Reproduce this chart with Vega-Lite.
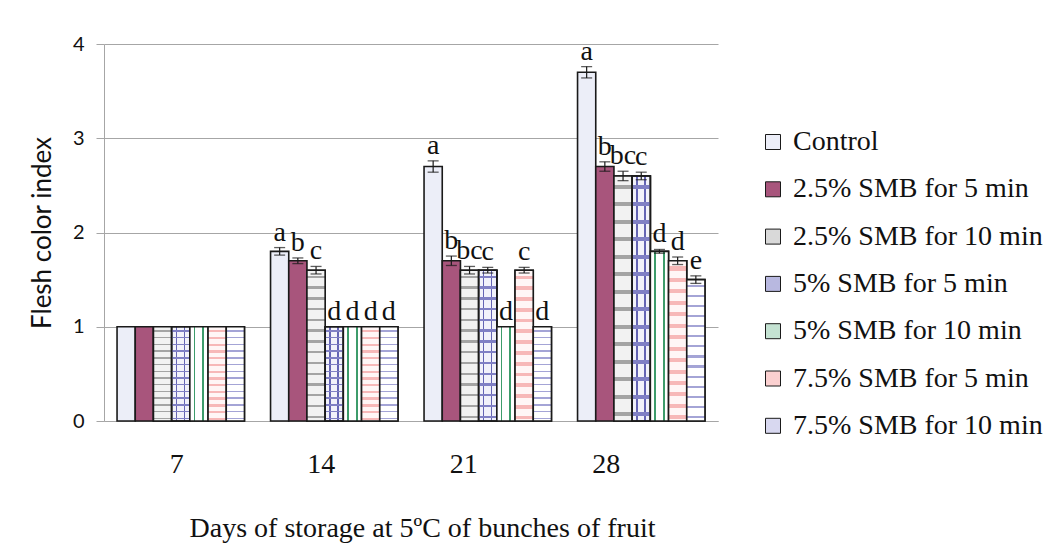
{
  "$schema": "https://vega.github.io/schema/vega-lite/v6.json",
  "width": 614,
  "height": 377,
  "autosize": {"type": "none"},
  "padding": {"left": 104, "top": 44, "right": 334, "bottom": 133},
  "background": "white",
  "config": {
    "view": {"stroke": null},
    "legend": {"labelFont": "Liberation Serif", "labelFontSize": 28, "labelColor": "#111111"}
  },
  "data": {"values": [
    {"day": 7, "trt": "Control", "value": 1.0, "lo": 1.0, "hi": 1.0, "letter": ""},
    {"day": 7, "trt": "2.5% SMB for 5 min", "value": 1.0, "lo": 1.0, "hi": 1.0, "letter": ""},
    {"day": 7, "trt": "2.5% SMB for 10 min", "value": 1.0, "lo": 1.0, "hi": 1.0, "letter": ""},
    {"day": 7, "trt": "5% SMB for 5 min", "value": 1.0, "lo": 1.0, "hi": 1.0, "letter": ""},
    {"day": 7, "trt": "5% SMB for 10 min", "value": 1.0, "lo": 1.0, "hi": 1.0, "letter": ""},
    {"day": 7, "trt": "7.5% SMB for 5 min", "value": 1.0, "lo": 1.0, "hi": 1.0, "letter": ""},
    {"day": 7, "trt": "7.5% SMB for 10 min", "value": 1.0, "lo": 1.0, "hi": 1.0, "letter": ""},
    {"day": 14, "trt": "Control", "value": 1.8, "lo": 1.76, "hi": 1.84, "letter": "a"},
    {"day": 14, "trt": "2.5% SMB for 5 min", "value": 1.7, "lo": 1.67, "hi": 1.73, "letter": "b"},
    {"day": 14, "trt": "2.5% SMB for 10 min", "value": 1.6, "lo": 1.56, "hi": 1.64, "letter": "c"},
    {"day": 14, "trt": "5% SMB for 5 min", "value": 1.0, "lo": 1.0, "hi": 1.0, "letter": "d"},
    {"day": 14, "trt": "5% SMB for 10 min", "value": 1.0, "lo": 1.0, "hi": 1.0, "letter": "d"},
    {"day": 14, "trt": "7.5% SMB for 5 min", "value": 1.0, "lo": 1.0, "hi": 1.0, "letter": "d"},
    {"day": 14, "trt": "7.5% SMB for 10 min", "value": 1.0, "lo": 1.0, "hi": 1.0, "letter": "d"},
    {"day": 21, "trt": "Control", "value": 2.7, "lo": 2.64, "hi": 2.76, "letter": "a"},
    {"day": 21, "trt": "2.5% SMB for 5 min", "value": 1.7, "lo": 1.65, "hi": 1.75, "letter": "b"},
    {"day": 21, "trt": "2.5% SMB for 10 min", "value": 1.6, "lo": 1.56, "hi": 1.64, "letter": "bc"},
    {"day": 21, "trt": "5% SMB for 5 min", "value": 1.6, "lo": 1.57, "hi": 1.63, "letter": "c"},
    {"day": 21, "trt": "5% SMB for 10 min", "value": 1.0, "lo": 1.0, "hi": 1.0, "letter": "d"},
    {"day": 21, "trt": "7.5% SMB for 5 min", "value": 1.6, "lo": 1.57, "hi": 1.63, "letter": "c"},
    {"day": 21, "trt": "7.5% SMB for 10 min", "value": 1.0, "lo": 1.0, "hi": 1.0, "letter": "d"},
    {"day": 28, "trt": "Control", "value": 3.7, "lo": 3.64, "hi": 3.76, "letter": "a"},
    {"day": 28, "trt": "2.5% SMB for 5 min", "value": 2.7, "lo": 2.65, "hi": 2.75, "letter": "b"},
    {"day": 28, "trt": "2.5% SMB for 10 min", "value": 2.6, "lo": 2.55, "hi": 2.65, "letter": "bc"},
    {"day": 28, "trt": "5% SMB for 5 min", "value": 2.6, "lo": 2.56, "hi": 2.64, "letter": "c"},
    {"day": 28, "trt": "5% SMB for 10 min", "value": 1.8, "lo": 1.78, "hi": 1.82, "letter": "d"},
    {"day": 28, "trt": "7.5% SMB for 5 min", "value": 1.7, "lo": 1.66, "hi": 1.74, "letter": "d"},
    {"day": 28, "trt": "7.5% SMB for 10 min", "value": 1.5, "lo": 1.46, "hi": 1.54, "letter": "e"}
  ]},
  "encoding": {
    "x": {
      "field": "day", "type": "ordinal", "sort": [7, 14, 21, 28],
      "scale": {"paddingInner": 0.17, "paddingOuter": 0.085},
      "axis": {
        "title": "Days of storage at 5ºC of bunches of fruit",
        "titleFont": "Liberation Serif", "titleFontSize": 28, "titleFontWeight": "normal", "titleColor": "#111111",
        "titlePadding": 36, "titleX": 318,
        "labelFont": "Liberation Serif", "labelFontSize": 28, "labelColor": "#111111", "labelAngle": 0,
        "labelPadding": 29, "ticks": false, "domainColor": "#a6a6a6", "domainWidth": 1,
        "labelOffset": {"condition": [
          {"test": "datum.value == 7", "value": -4},
          {"test": "datum.value == 14", "value": -13},
          {"test": "datum.value == 21", "value": -24}
        ], "value": -35}
      }
    },
    "xOffset": {
      "field": "trt", "type": "nominal",
      "sort": ["Control", "2.5% SMB for 5 min", "2.5% SMB for 10 min", "5% SMB for 5 min", "5% SMB for 10 min", "7.5% SMB for 5 min", "7.5% SMB for 10 min"],
      "scale": {"paddingInner": 0, "paddingOuter": 0}
    }
  },
  "layer": [
    {
      "mark": {"type": "bar", "stroke": "#1a1a1a", "strokeWidth": 1.6},
      "encoding": {
        "y": {
          "field": "value", "type": "quantitative",
          "scale": {"domain": [0, 4], "nice": false, "zero": true},
          "axis": {
            "values": [0, 1, 2, 3, 4], "format": "d", "title": "Flesh color index",
            "titleFont": "Lato", "titleFontSize": 26, "titleFontWeight": "normal", "titleColor": "#111111", "titlePadding": 17,
            "labelFont": "Lato", "labelFontSize": 20, "labelColor": "#111111", "labelPadding": 12,
            "tickSize": 8, "tickColor": "#a6a6a6", "domainColor": "#a6a6a6",
            "grid": true, "gridColor": "#a6a6a6", "gridWidth": 1
          }
        },
        "color": {
          "field": "trt", "type": "nominal",
          "sort": ["Control", "2.5% SMB for 5 min", "2.5% SMB for 10 min", "5% SMB for 5 min", "5% SMB for 10 min", "7.5% SMB for 5 min", "7.5% SMB for 10 min"],
          "scale": {
            "domain": ["Control", "2.5% SMB for 5 min", "2.5% SMB for 10 min", "5% SMB for 5 min", "5% SMB for 10 min", "7.5% SMB for 5 min", "7.5% SMB for 10 min"],
            "range": ["#eceef8", "#a8557c", "#d9d9d9", "#b8b8e0", "#c4e2d2", "#fbd0d0", "#d8d8f0"]
          },
          "legend": {
            "orient": "none", "legendX": 655, "legendY": 84, "title": null,
            "labelFont": "Liberation Serif", "labelFontSize": 28, "labelColor": "#111111", "labelLimit": 400,
            "symbolType": "square", "symbolSize": 225, "symbolStrokeColor": "#1a1a1a", "symbolStrokeWidth": 1,
            "symbolOpacity": 1, "rowPadding": 19.3, "labelOffset": 6
          }
        }
      }
    },
    {
      "transform": [{"filter": "datum.trt === '2.5% SMB for 10 min'"}],
      "mark": {"type": "bar", "stroke": "#1a1a1a", "strokeWidth": 1.6,
        "fill": {"gradient": "linear", "x1": 0, "y1": 0, "x2": 0, "y2": 1, "stops": [
          {"offset": 0, "color": "#f2f2f2"},
          {"offset": 0.0357, "color": "#f2f2f2"}, {"offset": 0.0357, "color": "#a4a4a4"}, {"offset": 0.0514, "color": "#a4a4a4"}, {"offset": 0.0514, "color": "#f2f2f2"},
          {"offset": 0.1071, "color": "#f2f2f2"}, {"offset": 0.1071, "color": "#a4a4a4"}, {"offset": 0.1228, "color": "#a4a4a4"}, {"offset": 0.1228, "color": "#f2f2f2"},
          {"offset": 0.1786, "color": "#f2f2f2"}, {"offset": 0.1786, "color": "#a4a4a4"}, {"offset": 0.1943, "color": "#a4a4a4"}, {"offset": 0.1943, "color": "#f2f2f2"},
          {"offset": 0.25, "color": "#f2f2f2"}, {"offset": 0.25, "color": "#a4a4a4"}, {"offset": 0.2657, "color": "#a4a4a4"}, {"offset": 0.2657, "color": "#f2f2f2"},
          {"offset": 0.3214, "color": "#f2f2f2"}, {"offset": 0.3214, "color": "#a4a4a4"}, {"offset": 0.3371, "color": "#a4a4a4"}, {"offset": 0.3371, "color": "#f2f2f2"},
          {"offset": 0.3929, "color": "#f2f2f2"}, {"offset": 0.3929, "color": "#a4a4a4"}, {"offset": 0.4086, "color": "#a4a4a4"}, {"offset": 0.4086, "color": "#f2f2f2"},
          {"offset": 0.4643, "color": "#f2f2f2"}, {"offset": 0.4643, "color": "#a4a4a4"}, {"offset": 0.48, "color": "#a4a4a4"}, {"offset": 0.48, "color": "#f2f2f2"},
          {"offset": 0.5357, "color": "#f2f2f2"}, {"offset": 0.5357, "color": "#a4a4a4"}, {"offset": 0.5514, "color": "#a4a4a4"}, {"offset": 0.5514, "color": "#f2f2f2"},
          {"offset": 0.6071, "color": "#f2f2f2"}, {"offset": 0.6071, "color": "#a4a4a4"}, {"offset": 0.6228, "color": "#a4a4a4"}, {"offset": 0.6228, "color": "#f2f2f2"},
          {"offset": 0.6786, "color": "#f2f2f2"}, {"offset": 0.6786, "color": "#a4a4a4"}, {"offset": 0.6943, "color": "#a4a4a4"}, {"offset": 0.6943, "color": "#f2f2f2"},
          {"offset": 0.75, "color": "#f2f2f2"}, {"offset": 0.75, "color": "#a4a4a4"}, {"offset": 0.7657, "color": "#a4a4a4"}, {"offset": 0.7657, "color": "#f2f2f2"},
          {"offset": 0.8214, "color": "#f2f2f2"}, {"offset": 0.8214, "color": "#a4a4a4"}, {"offset": 0.8371, "color": "#a4a4a4"}, {"offset": 0.8371, "color": "#f2f2f2"},
          {"offset": 0.8929, "color": "#f2f2f2"}, {"offset": 0.8929, "color": "#a4a4a4"}, {"offset": 0.9086, "color": "#a4a4a4"}, {"offset": 0.9086, "color": "#f2f2f2"},
          {"offset": 0.9643, "color": "#f2f2f2"}, {"offset": 0.9643, "color": "#a4a4a4"}, {"offset": 0.98, "color": "#a4a4a4"}, {"offset": 0.98, "color": "#f2f2f2"},
          {"offset": 1, "color": "#f2f2f2"}
        ]}},
      "encoding": {"y": {"field": "value", "type": "quantitative"}}
    },
    {
      "transform": [{"filter": "datum.trt === '5% SMB for 5 min'"}],
      "mark": {"type": "bar", "stroke": "#1a1a1a", "strokeWidth": 1.6,
        "fill": {"gradient": "linear", "x1": 0, "y1": 0, "x2": 1, "y2": 0, "stops": [
          {"offset": 0, "color": "#f2f2fa"}, {"offset": 0.22, "color": "#f2f2fa"},
          {"offset": 0.22, "color": "#6464b4"}, {"offset": 0.3, "color": "#6464b4"},
          {"offset": 0.3, "color": "#f2f2fa"}, {"offset": 0.66, "color": "#f2f2fa"},
          {"offset": 0.66, "color": "#6464b4"}, {"offset": 0.74, "color": "#6464b4"},
          {"offset": 0.74, "color": "#f2f2fa"}, {"offset": 1, "color": "#f2f2fa"}
        ]}},
      "encoding": {"y": {"field": "value", "type": "quantitative"}}
    },
    {
      "transform": [{"filter": "datum.trt === '5% SMB for 5 min'"}],
      "mark": {"type": "bar", "stroke": "#1a1a1a", "strokeWidth": 1.6,
        "fill": {"gradient": "linear", "x1": 0, "y1": 0, "x2": 0, "y2": 1, "stops": [
          {"offset": 0, "color": "transparent"},
          {"offset": 0.0357, "color": "transparent"}, {"offset": 0.0357, "color": "#8080c4"}, {"offset": 0.0514, "color": "#8080c4"}, {"offset": 0.0514, "color": "transparent"},
          {"offset": 0.1071, "color": "transparent"}, {"offset": 0.1071, "color": "#8080c4"}, {"offset": 0.1228, "color": "#8080c4"}, {"offset": 0.1228, "color": "transparent"},
          {"offset": 0.1786, "color": "transparent"}, {"offset": 0.1786, "color": "#8080c4"}, {"offset": 0.1943, "color": "#8080c4"}, {"offset": 0.1943, "color": "transparent"},
          {"offset": 0.25, "color": "transparent"}, {"offset": 0.25, "color": "#8080c4"}, {"offset": 0.2657, "color": "#8080c4"}, {"offset": 0.2657, "color": "transparent"},
          {"offset": 0.3214, "color": "transparent"}, {"offset": 0.3214, "color": "#8080c4"}, {"offset": 0.3371, "color": "#8080c4"}, {"offset": 0.3371, "color": "transparent"},
          {"offset": 0.3929, "color": "transparent"}, {"offset": 0.3929, "color": "#8080c4"}, {"offset": 0.4086, "color": "#8080c4"}, {"offset": 0.4086, "color": "transparent"},
          {"offset": 0.4643, "color": "transparent"}, {"offset": 0.4643, "color": "#8080c4"}, {"offset": 0.48, "color": "#8080c4"}, {"offset": 0.48, "color": "transparent"},
          {"offset": 0.5357, "color": "transparent"}, {"offset": 0.5357, "color": "#8080c4"}, {"offset": 0.5514, "color": "#8080c4"}, {"offset": 0.5514, "color": "transparent"},
          {"offset": 0.6071, "color": "transparent"}, {"offset": 0.6071, "color": "#8080c4"}, {"offset": 0.6228, "color": "#8080c4"}, {"offset": 0.6228, "color": "transparent"},
          {"offset": 0.6786, "color": "transparent"}, {"offset": 0.6786, "color": "#8080c4"}, {"offset": 0.6943, "color": "#8080c4"}, {"offset": 0.6943, "color": "transparent"},
          {"offset": 0.75, "color": "transparent"}, {"offset": 0.75, "color": "#8080c4"}, {"offset": 0.7657, "color": "#8080c4"}, {"offset": 0.7657, "color": "transparent"},
          {"offset": 0.8214, "color": "transparent"}, {"offset": 0.8214, "color": "#8080c4"}, {"offset": 0.8371, "color": "#8080c4"}, {"offset": 0.8371, "color": "transparent"},
          {"offset": 0.8929, "color": "transparent"}, {"offset": 0.8929, "color": "#8080c4"}, {"offset": 0.9086, "color": "#8080c4"}, {"offset": 0.9086, "color": "transparent"},
          {"offset": 0.9643, "color": "transparent"}, {"offset": 0.9643, "color": "#8080c4"}, {"offset": 0.98, "color": "#8080c4"}, {"offset": 0.98, "color": "transparent"},
          {"offset": 1, "color": "transparent"}
        ]}},
      "encoding": {"y": {"field": "value", "type": "quantitative"}}
    },
    {
      "transform": [{"filter": "datum.trt === '5% SMB for 10 min'"}],
      "mark": {"type": "bar", "stroke": "#1a1a1a", "strokeWidth": 1.6,
        "fill": {"gradient": "linear", "x1": 0, "y1": 0, "x2": 1, "y2": 0, "stops": [
          {"offset": 0, "color": "#ffffff"}, {"offset": 0.21, "color": "#ffffff"},
          {"offset": 0.21, "color": "#3d9c6b"}, {"offset": 0.31, "color": "#3d9c6b"},
          {"offset": 0.31, "color": "#ffffff"}, {"offset": 0.69, "color": "#ffffff"},
          {"offset": 0.69, "color": "#3d9c6b"}, {"offset": 0.79, "color": "#3d9c6b"},
          {"offset": 0.79, "color": "#ffffff"}, {"offset": 1, "color": "#ffffff"}
        ]}},
      "encoding": {"y": {"field": "value", "type": "quantitative"}}
    },
    {
      "transform": [{"filter": "datum.trt === '7.5% SMB for 5 min'"}],
      "mark": {"type": "bar", "stroke": "#1a1a1a", "strokeWidth": 1.6,
        "fill": {"gradient": "linear", "x1": 0, "y1": 0, "x2": 0, "y2": 1, "stops": [
          {"offset": 0, "color": "#fff6f6"},
          {"offset": 0.0357, "color": "#fff6f6"}, {"offset": 0.0357, "color": "#f7b8b8"}, {"offset": 0.0607, "color": "#f7b8b8"}, {"offset": 0.0607, "color": "#fff6f6"},
          {"offset": 0.1071, "color": "#fff6f6"}, {"offset": 0.1071, "color": "#f7b8b8"}, {"offset": 0.1321, "color": "#f7b8b8"}, {"offset": 0.1321, "color": "#fff6f6"},
          {"offset": 0.1786, "color": "#fff6f6"}, {"offset": 0.1786, "color": "#f7b8b8"}, {"offset": 0.2036, "color": "#f7b8b8"}, {"offset": 0.2036, "color": "#fff6f6"},
          {"offset": 0.25, "color": "#fff6f6"}, {"offset": 0.25, "color": "#f7b8b8"}, {"offset": 0.275, "color": "#f7b8b8"}, {"offset": 0.275, "color": "#fff6f6"},
          {"offset": 0.3214, "color": "#fff6f6"}, {"offset": 0.3214, "color": "#f7b8b8"}, {"offset": 0.3464, "color": "#f7b8b8"}, {"offset": 0.3464, "color": "#fff6f6"},
          {"offset": 0.3929, "color": "#fff6f6"}, {"offset": 0.3929, "color": "#f7b8b8"}, {"offset": 0.4179, "color": "#f7b8b8"}, {"offset": 0.4179, "color": "#fff6f6"},
          {"offset": 0.4643, "color": "#fff6f6"}, {"offset": 0.4643, "color": "#f7b8b8"}, {"offset": 0.4893, "color": "#f7b8b8"}, {"offset": 0.4893, "color": "#fff6f6"},
          {"offset": 0.5357, "color": "#fff6f6"}, {"offset": 0.5357, "color": "#f7b8b8"}, {"offset": 0.5607, "color": "#f7b8b8"}, {"offset": 0.5607, "color": "#fff6f6"},
          {"offset": 0.6071, "color": "#fff6f6"}, {"offset": 0.6071, "color": "#f7b8b8"}, {"offset": 0.6321, "color": "#f7b8b8"}, {"offset": 0.6321, "color": "#fff6f6"},
          {"offset": 0.6786, "color": "#fff6f6"}, {"offset": 0.6786, "color": "#f7b8b8"}, {"offset": 0.7036, "color": "#f7b8b8"}, {"offset": 0.7036, "color": "#fff6f6"},
          {"offset": 0.75, "color": "#fff6f6"}, {"offset": 0.75, "color": "#f7b8b8"}, {"offset": 0.775, "color": "#f7b8b8"}, {"offset": 0.775, "color": "#fff6f6"},
          {"offset": 0.8214, "color": "#fff6f6"}, {"offset": 0.8214, "color": "#f7b8b8"}, {"offset": 0.8464, "color": "#f7b8b8"}, {"offset": 0.8464, "color": "#fff6f6"},
          {"offset": 0.8929, "color": "#fff6f6"}, {"offset": 0.8929, "color": "#f7b8b8"}, {"offset": 0.9179, "color": "#f7b8b8"}, {"offset": 0.9179, "color": "#fff6f6"},
          {"offset": 0.9643, "color": "#fff6f6"}, {"offset": 0.9643, "color": "#f7b8b8"}, {"offset": 0.9893, "color": "#f7b8b8"}, {"offset": 0.9893, "color": "#fff6f6"},
          {"offset": 1, "color": "#fff6f6"}
        ]}},
      "encoding": {"y": {"field": "value", "type": "quantitative"}}
    },
    {
      "transform": [{"filter": "datum.trt === '7.5% SMB for 10 min'"}],
      "mark": {"type": "bar", "stroke": "#1a1a1a", "strokeWidth": 1.6,
        "fill": {"gradient": "linear", "x1": 0, "y1": 0, "x2": 0, "y2": 1, "stops": [
          {"offset": 0, "color": "#ffffff"},
          {"offset": 0.0357, "color": "#ffffff"}, {"offset": 0.0357, "color": "#a4a4d6"}, {"offset": 0.0514, "color": "#a4a4d6"}, {"offset": 0.0514, "color": "#ffffff"},
          {"offset": 0.1071, "color": "#ffffff"}, {"offset": 0.1071, "color": "#a4a4d6"}, {"offset": 0.1228, "color": "#a4a4d6"}, {"offset": 0.1228, "color": "#ffffff"},
          {"offset": 0.1786, "color": "#ffffff"}, {"offset": 0.1786, "color": "#a4a4d6"}, {"offset": 0.1943, "color": "#a4a4d6"}, {"offset": 0.1943, "color": "#ffffff"},
          {"offset": 0.25, "color": "#ffffff"}, {"offset": 0.25, "color": "#a4a4d6"}, {"offset": 0.2657, "color": "#a4a4d6"}, {"offset": 0.2657, "color": "#ffffff"},
          {"offset": 0.3214, "color": "#ffffff"}, {"offset": 0.3214, "color": "#a4a4d6"}, {"offset": 0.3371, "color": "#a4a4d6"}, {"offset": 0.3371, "color": "#ffffff"},
          {"offset": 0.3929, "color": "#ffffff"}, {"offset": 0.3929, "color": "#a4a4d6"}, {"offset": 0.4086, "color": "#a4a4d6"}, {"offset": 0.4086, "color": "#ffffff"},
          {"offset": 0.4643, "color": "#ffffff"}, {"offset": 0.4643, "color": "#a4a4d6"}, {"offset": 0.48, "color": "#a4a4d6"}, {"offset": 0.48, "color": "#ffffff"},
          {"offset": 0.5357, "color": "#ffffff"}, {"offset": 0.5357, "color": "#a4a4d6"}, {"offset": 0.5514, "color": "#a4a4d6"}, {"offset": 0.5514, "color": "#ffffff"},
          {"offset": 0.6071, "color": "#ffffff"}, {"offset": 0.6071, "color": "#a4a4d6"}, {"offset": 0.6228, "color": "#a4a4d6"}, {"offset": 0.6228, "color": "#ffffff"},
          {"offset": 0.6786, "color": "#ffffff"}, {"offset": 0.6786, "color": "#a4a4d6"}, {"offset": 0.6943, "color": "#a4a4d6"}, {"offset": 0.6943, "color": "#ffffff"},
          {"offset": 0.75, "color": "#ffffff"}, {"offset": 0.75, "color": "#a4a4d6"}, {"offset": 0.7657, "color": "#a4a4d6"}, {"offset": 0.7657, "color": "#ffffff"},
          {"offset": 0.8214, "color": "#ffffff"}, {"offset": 0.8214, "color": "#a4a4d6"}, {"offset": 0.8371, "color": "#a4a4d6"}, {"offset": 0.8371, "color": "#ffffff"},
          {"offset": 0.8929, "color": "#ffffff"}, {"offset": 0.8929, "color": "#a4a4d6"}, {"offset": 0.9086, "color": "#a4a4d6"}, {"offset": 0.9086, "color": "#ffffff"},
          {"offset": 0.9643, "color": "#ffffff"}, {"offset": 0.9643, "color": "#a4a4d6"}, {"offset": 0.98, "color": "#a4a4d6"}, {"offset": 0.98, "color": "#ffffff"},
          {"offset": 1, "color": "#ffffff"}
        ]}},
      "encoding": {"y": {"field": "value", "type": "quantitative"}}
    },
    {
      "transform": [{"filter": "datum.hi > datum.lo"}],
      "mark": {"type": "rule", "color": "#1a1a1a", "strokeWidth": 1.2},
      "encoding": {
        "y": {"field": "lo", "type": "quantitative"},
        "y2": {"field": "hi"}
      }
    },
    {
      "transform": [{"filter": "datum.hi > datum.lo"}],
      "mark": {"type": "tick", "color": "#1a1a1a", "size": 11, "thickness": 1.3},
      "encoding": {"y": {"field": "lo", "type": "quantitative"}}
    },
    {
      "transform": [{"filter": "datum.hi > datum.lo"}],
      "mark": {"type": "tick", "color": "#1a1a1a", "size": 11, "thickness": 1.3},
      "encoding": {"y": {"field": "hi", "type": "quantitative"}}
    },
    {
      "transform": [{"filter": "datum.letter != ''"}],
      "mark": {"type": "text", "font": "Liberation Serif", "fontSize": 28, "color": "#111111", "baseline": "alphabetic", "dy": -7},
      "encoding": {
        "y": {"field": "hi", "type": "quantitative"},
        "text": {"field": "letter"}
      }
    }
  ]
}
